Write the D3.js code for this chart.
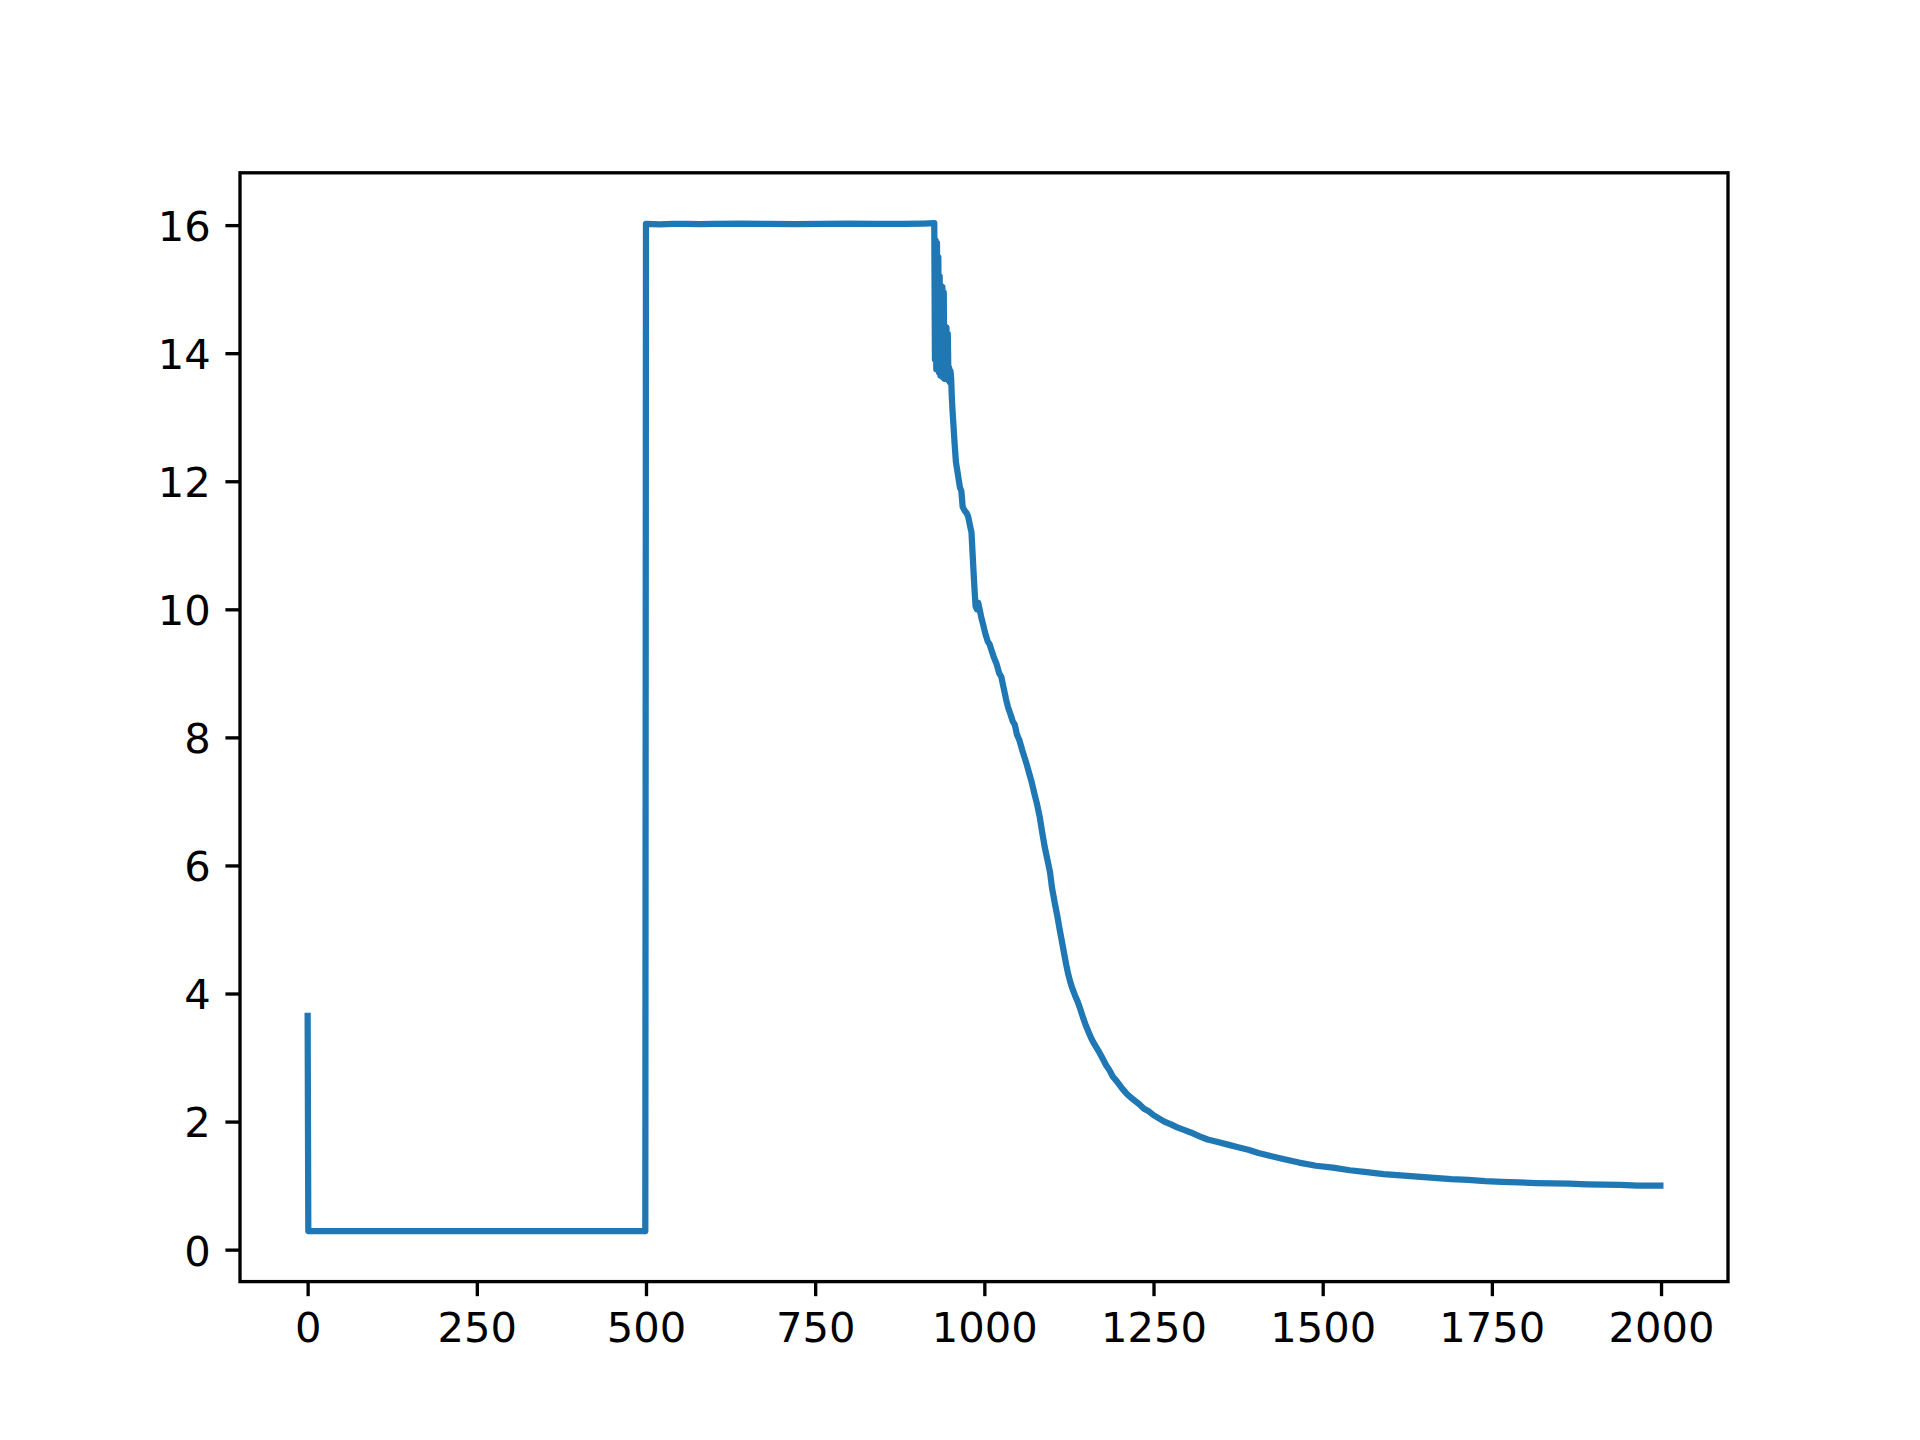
<!DOCTYPE html>
<html>
<head>
<meta charset="utf-8">
<script src="https://cdn.jsdelivr.net/npm/d3@7"></script>
<style>
  html, body { margin: 0; padding: 0; background: #ffffff; }
  svg { display: block; }
</style>
</head>
<body>
<svg id="chart" width="1920" height="1440"></svg>
<script>
// ---- data ----
const xTickValues = [0, 250, 500, 750, 1000, 1250, 1500, 1750, 2000];
const yTickValues = [0, 2, 4, 6, 8, 10, 12, 14, 16];

// low phase (0..499)
const lowX = [0, 1, 50, 100, 150, 200, 250, 300, 350, 400, 450, 499];
const lowY = [3.65, 0.29, 0.29, 0.288, 0.29, 0.29, 0.288, 0.29, 0.29, 0.29, 0.288, 0.29];

// high phase (500..926)
const highX = [500, 520, 540, 560, 580, 600, 640, 680, 720, 760, 800, 840, 880, 910, 926];
const highY = [16.02, 16.01, 16.02, 16.02, 16.015, 16.02, 16.025, 16.02, 16.015, 16.02, 16.025, 16.02, 16.02, 16.025, 16.03];

// oscillating drop (927..952)
const dropX = [927, 928, 929, 930, 931, 932, 933, 934, 935, 936, 937, 938, 939, 940, 941, 942, 943, 944, 945, 946, 947, 948, 949, 950, 951, 952];
const dropY = [13.9, 15.76, 13.75, 15.72, 13.8, 15.5, 13.7, 15.2, 13.65, 15.05, 13.7, 15.03, 13.62, 14.95, 13.6, 14.42, 13.65, 14.4, 13.6, 14.3, 13.58, 13.77, 13.55, 13.72, 13.6, 13.3];

// decay (953..1999)
const decayX = [953, 956, 958, 961, 964, 966, 968, 971, 974, 976, 979, 981, 983, 985, 987, 989, 991, 993, 996, 998,
  1002, 1005, 1008, 1010, 1014, 1018, 1022, 1025, 1029, 1032, 1035, 1039, 1042, 1045, 1048, 1052, 1056, 1059, 1062, 1066,
  1070, 1074, 1078, 1082, 1085, 1089, 1093, 1097, 1100, 1104, 1108, 1111, 1114, 1118, 1121, 1124, 1127, 1130, 1134, 1138,
  1142, 1146, 1150, 1154, 1158, 1162, 1166, 1170, 1175, 1180, 1185, 1190, 1195, 1200, 1205, 1210, 1216, 1222, 1229, 1236,
  1243, 1250, 1258, 1266, 1275, 1285, 1295, 1305, 1318, 1330, 1345, 1360, 1375, 1390, 1405, 1420, 1440, 1465, 1490, 1515,
  1540, 1565, 1590, 1615, 1640, 1665, 1690, 1715, 1740, 1765, 1790, 1815, 1840, 1865, 1890, 1915, 1940, 1965, 1999];
const decayY = [13.1, 12.6, 12.3, 12.1, 11.9, 11.85, 11.6, 11.54, 11.5, 11.45, 11.3, 11.2, 10.8, 10.4, 10.05, 10.0, 10.1, 10.0, 9.85, 9.77,
  9.6, 9.5, 9.45, 9.38, 9.25, 9.15, 9.0, 8.95, 8.75, 8.6, 8.47, 8.35, 8.25, 8.2, 8.05, 7.95, 7.8, 7.7, 7.6, 7.45,
  7.3, 7.12, 6.95, 6.75, 6.55, 6.3, 6.1, 5.9, 5.65, 5.42, 5.2, 5.02, 4.85, 4.62, 4.45, 4.3, 4.18, 4.08, 3.97, 3.87,
  3.75, 3.62, 3.5, 3.4, 3.3, 3.22, 3.15, 3.08, 2.98, 2.88, 2.8, 2.7, 2.64, 2.57, 2.5, 2.44, 2.38, 2.33, 2.27, 2.2,
  2.16, 2.1, 2.05, 2.0, 1.96, 1.91, 1.87, 1.83, 1.77, 1.72, 1.68, 1.64, 1.6, 1.56, 1.51, 1.47, 1.42, 1.36, 1.31, 1.28,
  1.24, 1.21, 1.18, 1.16, 1.14, 1.12, 1.10, 1.09, 1.07, 1.06, 1.05, 1.04, 1.035, 1.03, 1.02, 1.015, 1.01, 1.0, 1.0];

(function () {
// ---- build series ----
const xs = [].concat(lowX, highX, dropX, decayX);
const ys = [].concat(lowY, highY, dropY, decayY);
const series = xs.map((x, i) => ({ x: x, y: ys[i] }));

// ---- layout (matplotlib default figure geometry at 300 dpi) ----
const W = 1920, H = 1440;
const pLeft = 0.125 * W, pRight = 0.9 * W;
const pTop = (1 - 0.88) * H, pBottom = (1 - 0.11) * H;
const pt = 300 / 72;

const xMin = d3.min(xs), xMax = d3.max(xs);
const yMin = d3.min(ys), yMax = d3.max(ys);
const xPad = (xMax - xMin) * 0.05, yPad = (yMax - yMin) * 0.05;

const x = d3.scaleLinear().domain([xMin - xPad, xMax + xPad]).range([pLeft, pRight]);
const y = d3.scaleLinear().domain([yMin - yPad, yMax + yPad]).range([pBottom, pTop]);

const svg = d3.select("#chart");
svg.append("rect").attr("width", W).attr("height", H).attr("fill", "#ffffff");

svg.append("defs").append("clipPath").attr("id", "clip")
  .append("rect").attr("x", pLeft).attr("y", pTop)
  .attr("width", pRight - pLeft).attr("height", pBottom - pTop);

const line = d3.line().x(d => x(d.x)).y(d => y(d.y));
svg.append("path")
  .datum(series)
  .attr("clip-path", "url(#clip)")
  .attr("fill", "none")
  .attr("stroke", "#1f77b4")
  .attr("stroke-width", 1.5 * pt)
  .attr("stroke-linejoin", "round")
  .attr("stroke-linecap", "square")
  .attr("d", line);

// ---- axes ----
const fontSize = 10 * pt;
const tickLen = 3.5 * pt, tickPad = 3.5 * pt;

const xAxis = d3.axisBottom(x).tickValues(xTickValues).tickFormat(d3.format("d"))
  .tickSizeInner(tickLen).tickSizeOuter(0).tickPadding(tickPad);
const yAxis = d3.axisLeft(y).tickValues(yTickValues).tickFormat(d3.format("d"))
  .tickSizeInner(tickLen).tickSizeOuter(0).tickPadding(tickPad);

const gx = svg.append("g").attr("transform", `translate(0,${pBottom})`).call(xAxis);
const gy = svg.append("g").attr("transform", `translate(${pLeft},0)`).call(yAxis);

[gx, gy].forEach(g => {
  g.select(".domain").remove();
  g.selectAll(".tick line").attr("stroke", "#000").attr("stroke-width", 0.8 * pt);
  g.selectAll(".tick text")
    .attr("fill", "#000")
    .style("font-family", "'DejaVu Sans', sans-serif")
    .style("font-size", fontSize + "px");
});
gx.selectAll(".tick text").attr("dy", null).attr("y", tickLen + tickPad + 0.76 * fontSize);
gy.selectAll(".tick text").attr("dy", null).attr("y", 0.37 * fontSize);

// spines
svg.append("rect")
  .attr("x", pLeft).attr("y", pTop)
  .attr("width", pRight - pLeft).attr("height", pBottom - pTop)
  .attr("fill", "none").attr("stroke", "#000")
  .attr("stroke-width", 0.8 * pt).attr("stroke-linejoin", "miter");
})();
</script>
</body>
</html>
